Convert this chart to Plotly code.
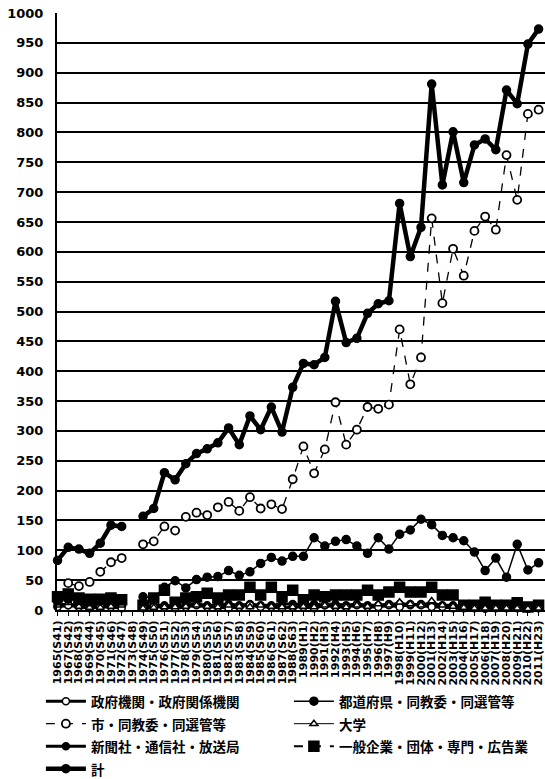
import plotly.graph_objects as go

years = ["1965(S41)", "1967(S42)", "1968(S43)", "1969(S44)", "1970(S45)", "1971(S46)", "1972(S47)",
         "1973(S48)", "1974(S49)", "1975(S50)", "1976(S51)", "1977(S52)", "1978(S53)", "1979(S54)",
         "1980(S55)", "1981(S56)", "1982(S57)", "1983(S58)", "1984(S59)", "1985(S60)", "1986(S61)",
         "1987(S62)", "1988(S63)", "1989(H1)", "1990(H2)", "1991(H3)", "1992(H4)", "1993(H5)",
         "1994(H6)", "1995(H7)", "1996(H8)", "1997(H9)", "1998(H10)", "1999(H11)", "2000(H12)",
         "2001(H13)", "2002(H14)", "2003(H15)", "2004(H16)", "2005(H17)", "2006(H18)", "2007(H19)",
         "2008(H20)", "2009(H21)", "2010(H22)", "2011(H23)"]

total = [83, 105, 102, 95, 112, 142, 140, None, 157, 170, 230, 218, 245, 262, 270, 280, 305, 277,
         325, 302, 340, 298, 373, 413, 411, 423, 517, 448, 455, 497, 513, 518, 681, 592, 641,
         881, 712, 801, 716, 779, 789, 771, 871, 848, 948, 973]

city = [None, 45, 40, 47, 64, 80, 87, None, 110, 115, 140, 133, 156, 163, 159, 172, 181, 166,
        189, 170, 177, 169, 219, 274, 229, 269, 348, 277, 302, 340, 337, 344, 470, 378, 423,
        656, 514, 605, 560, 635, 659, 637, 762, 687, 831, 838]

prefecture = [15, 18, 16, 14, 15, 17, 15, None, 22, 20, 38, 49, 37, 51, 55, 56, 66, 58,
              64, 78, 88, 82, 90, 90, 121, 107, 115, 118, 107, 95, 121, 102, 127, 134, 152,
              143, 125, 121, 116, 97, 66, 87, 55, 110, 67, 79]

company = [22, 27, 20, 18, 18, 20, 17, None, 8, 20, 33, 13, 20, 22, 28, 20, 25, 25,
           38, 25, 38, 22, 33, 17, 25, 22, 25, 25, 25, 33, 25, 30, 38, 30, 30,
           38, 25, 25, 8, 8, 13, 8, 8, 12, 5, 8]

government = [5, 8, 5, 3, 5, 5, 3, None, 3, 5, 5, 3, 5, 8, 5, 5, 3, 5,
              8, 5, 5, 3, 5, 5, 3, 8, 5, 5, 8, 5, 5, 8, 5, 10, 8,
              5, 5, 3, 3, 3, 2, 3, 3, 3, 2, 3]

university = [8, 12, 6, 4, 4, 6, 8, None, 3, 4, 5, 5, 6, 8, 6, 5, 8, 6,
              5, 8, 6, 5, 5, 6, 5, 8, 6, 5, 8, 6, 10, 8, 13, 10, 8,
              15, 8, 6, 4, 3, 3, 3, 3, 3, 2, 3]

newspaper = [10, 8, 10, 8, 8, 10, 8, None, 6, 8, 8, 6, 8, 10, 8, 8, 10, 8,
             10, 8, 8, 10, 10, 8, 10, 8, 10, 8, 10, 8, 8, 10, 10, 8, 10,
             10, 8, 8, 6, 6, 6, 5, 6, 5, 5, 6]

names = ["政府機関・政府関係機関", "都道府県・同教委・同選管等", "市・同教委・同選管等", "大学",
         "新聞社・通信社・放送局", "一般企業・団体・専門・広告業", "計"]

fig = go.Figure()

def add(y, name, rank, dash, width, symbol, size, fill="black", lw=1.5):
    fig.add_trace(go.Scatter(
        x=years, y=y, mode="lines+markers", legendrank=rank,
        name="<span style='font-size:13.5px'>" + name + "</span>",
        connectgaps=False, cliponaxis=False,
        line=dict(color="black", width=width, dash=dash),
        marker=dict(symbol=symbol, size=size, color=fill,
                    line=dict(color="black", width=lw)),
    ))

add(company, names[5], 6, "dash", 2, "square", 10)
add(newspaper, names[4], 5, "solid", 3, "circle", 7)
add(government, names[0], 1, "solid", 3, "circle", 7, fill="white")
add(university, names[3], 4, "solid", 1, "triangle-up", 7, fill="white")
add(prefecture, names[1], 2, "solid", 1.5, "circle", 8)
add(city, names[2], 3, "dash", 1.3, "circle", 8, fill="white", lw=1.8)
add(total, names[6], 7, "solid", 4.5, "circle", 8)

fig.update_layout(
    width=545, height=779,
    margin=dict(l=57, r=0, t=13, b=169, autoexpand=False),
    paper_bgcolor="white", plot_bgcolor="white",
    font=dict(family="DejaVu Sans, Noto Sans CJK JP", color="black"),
    showlegend=True,
    legend=dict(
        orientation="h", xref="paper", x=-0.033, xanchor="left",
        yref="paper", y=-0.1255, yanchor="top",
        entrywidth=193, entrywidthmode="pixels",
        font=dict(family="Noto Sans CJK JP", size=15, color="black", weight="bold"),
        tracegroupgap=0, itemwidth=40, traceorder="normal",
        bgcolor="rgba(0,0,0,0)",
    ),
    xaxis=dict(
        type="category", range=[-0.05, 45.6], tickangle=-90,
        tickmode="array", tickvals=years, ticktext=years,
        showgrid=False, ticks="outside", ticklen=4, tickcolor="black",
        tickfont=dict(family="DejaVu Sans", size=11, weight="bold"),
        showline=True, linecolor="black", linewidth=2, automargin=False,
        ticklabeloverflow="allow",
    ),
    yaxis=dict(
        range=[0, 1000], dtick=50, showgrid=True, gridcolor="black", gridwidth=1.5,
        zeroline=False, showline=True, linecolor="black", linewidth=2,
        tickfont=dict(family="DejaVu Sans", size=13, weight="bold"),
        ticks="", ticklabelstandoff=9, automargin=False,
        ticklabeloverflow="allow",
    ),
)

fig.write_html("out.html", config={"displayModeBar": False},
               post_script="document.body.style.margin='0';")
